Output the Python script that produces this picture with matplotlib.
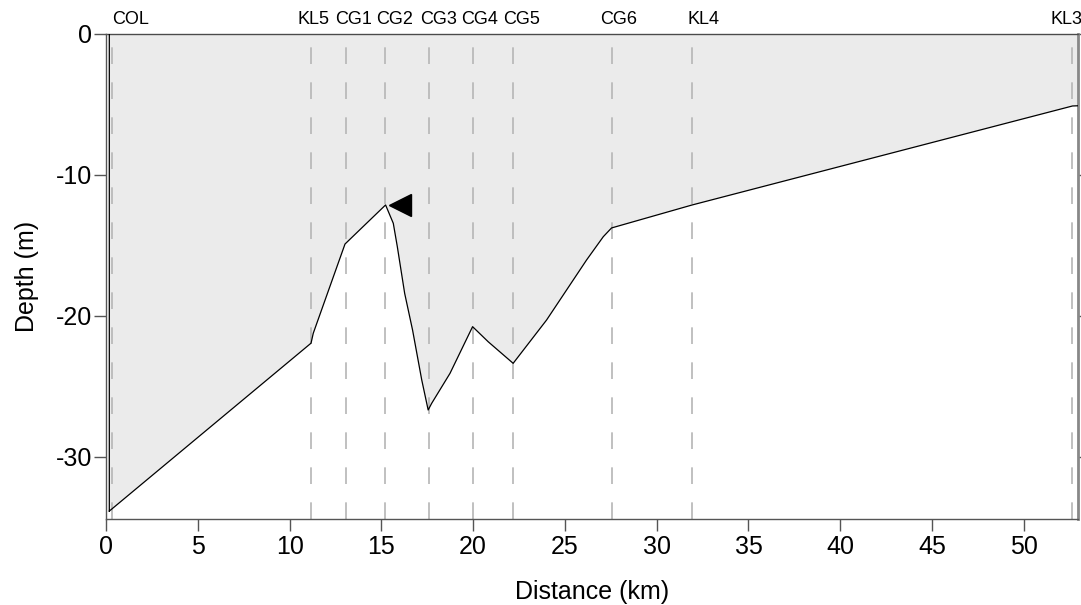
#Import necessary libraries
import numpy as np
import matplotlib.pyplot as plt

plt.rcParams['font.family'] = ['Liberation Sans', 'DejaVu Sans']
plt.rcParams['axes.unicode_minus'] = False

#Bathymetric profile along the section (distance in km, depth in m)
dist = [0.18, 11.17, 11.29, 13.02, 15.23, 15.65, 15.87, 16.27, 16.70, 17.20, 17.55,
        17.74, 18.74, 19.97, 20.82, 22.18, 24.00, 26.18, 27.09, 27.54, 31.93, 52.65, 53.05]
depth = [-33.87, -21.96, -21.26, -14.93, -12.16, -13.46, -15.12, -18.43, -21.03, -24.57, -26.70,
         -26.23, -24.10, -20.79, -21.86, -23.39, -20.32, -16.06, -14.41, -13.79, -12.16, -5.14, -5.12]

#Stations along the section
stations = ['COL', 'KL5', 'CG1', 'CG2', 'CG3', 'CG4', 'CG5', 'CG6', 'KL4', 'KL3']
station_km = [0.33, 11.17, 13.05, 15.20, 17.61, 19.97, 22.17, 27.54, 31.93, 52.65]
label_dx = [13, 2, 6, 7, 6.5, 5, 6.5, 5, 8.5, -4.5]     #label shift in points

#Marker position (triangle next to the ridge crest)
mark_km, mark_depth = 15.99, -12.16

fig = plt.figure(figsize=(10.81, 6.05), dpi=100)
ax = fig.add_axes([106/1081, 1 - 519/605, 972/1081, 485.5/605])

#Water column shaded between surface and seabed
poly_x = dist + [dist[-1], dist[0]]
poly_y = depth + [0, 0]
ax.fill(poly_x, poly_y, facecolor='#ebebeb', edgecolor='none', zorder=1)
ax.plot(poly_x + [dist[0]], poly_y + [depth[0]], color='black', lw=0.9, zorder=4)

#Station lines
for s in station_km:
    ax.axvline(s, color='#b5b5b5', lw=1.2, linestyle=(0, (10, 11)), zorder=2)
for name, s, dx in zip(stations, station_km, label_dx):
    ax.annotate(name, xy=(s, 1), xycoords=('data', 'axes fraction'),
                xytext=(dx, 4), textcoords='offset points',
                ha='center', va='bottom', fontsize=13)

ax.plot(mark_km, mark_depth, marker='<', color='black', markersize=16, zorder=5)

ax.set_xlim(0, 52.95)
ax.set_ylim(-34.43, 0)
ax.set_xticks(np.arange(0, 51, 5))
ax.set_yticks([-30, -20, -10, 0])
ax.tick_params(axis='both', labelsize=18, length=8.5, width=1, color='#555555', direction='out')
ax.tick_params(axis='x', pad=3)
ax.tick_params(axis='y', pad=1.5)
ax.tick_params(axis='y', which='both', right=True, length=8.5)
for t in ax.yaxis.get_ticklines()[1::2]:
    t.set_markersize(2)
for sp in ax.spines.values():
    sp.set_color('#555555')
    sp.set_linewidth(1)
ax.spines['right'].set_color('#888888')
ax.spines['right'].set_linewidth(2)

ax.set_xlabel('Distance (km)', fontsize=18)
ax.set_ylabel('Depth (m)', fontsize=18, va='center')
ax.xaxis.set_label_coords(0.5, -0.125)
ax.yaxis.set_label_coords(-0.081, 0.5)

plt.savefig('out.png', dpi=100)
